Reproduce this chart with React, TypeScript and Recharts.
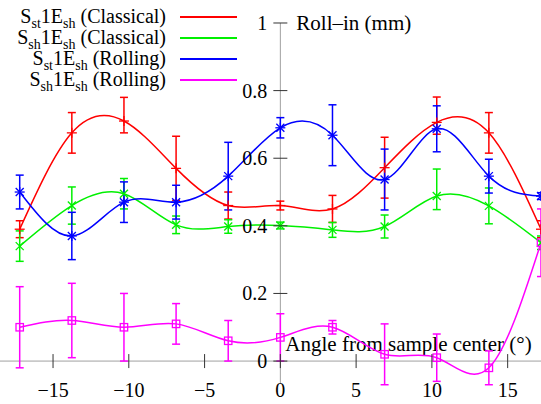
import React from "react";
import { ComposedChart, Line, XAxis, YAxis, ErrorBar, ReferenceLine } from "recharts";

// sample angles (deg)
const angles = [-17.2, -13.76, -10.32, -6.88, -3.44, 0, 3.44, 6.88, 10.32, 13.76, 17.2];

// roll-in (mm), error given as number or [low, high]
const stClassical = [0.39, 0.675, 0.71, 0.57, 0.46, 0.46, 0.45, 0.572, 0.706, 0.675, 0.39];
const stClassicalErr = [0.025, 0.06, [0.035, 0.07], 0.095, 0.04, 0.013, 0.04, 0.09, [0.035, 0.075], 0.06, 0.025];
const shClassical = [0.34, 0.46, 0.495, 0.403, 0.398, 0.401, 0.388, 0.398, 0.488, 0.459, 0.35];
const shClassicalErr = [0.045, 0.055, 0.045, 0.026, 0.02, 0.01, 0.022, 0.034, [0.04, 0.08], 0.053, 0.02];
const stRolling = [0.5, 0.37, 0.47, 0.47, 0.547, 0.69, 0.668, 0.537, 0.687, 0.547, 0.488];
const stRollingErr = [0.05, 0.07, 0.06, 0.05, 0.1, 0.03, 0.09, 0.09, 0.068, 0.05, 0.01];
const shRolling = [0.1, 0.12, 0.1, 0.11, 0.06, 0.07, 0.1, 0.02, 0.01, -0.02, 0.35];
const shRollingErr = [0.12, 0.11, 0.1, 0.06, 0.06, 0.07, 0.02, 0.09, 0.07, 0.05, 0.1];

const xTicks = [-15, -10, -5, 0, 5, 10, 15];
const yTicks = [0, 0.2, 0.4, 0.6, 0.8, 1];

const W = 541;
const H = 404;
const X_MIN = -18.5;
const X_MAX = 17.2;
const Y_MIN = -0.127;
const Y_MAX = 1.068;
const xZero = (W * (0 - X_MIN)) / (X_MAX - X_MIN);
const yZero = (H * Y_MAX) / (Y_MAX - Y_MIN);

const FONT = "'Liberation Serif', 'DejaVu Serif', serif";
const txt = { fontFamily: FONT, fontSize: 20 };
const title = { fontFamily: FONT, fontSize: 21 };

const RED = "#ff0000";
const GREEN = "#00f000";
const BLUE = "#0000ff";
const MAGENTA = "#ff00ff";

const data = angles.map((a, i) => ({
  angle: a,
  stC: stClassical[i],
  stCErr: stClassicalErr[i],
  shC: shClassical[i],
  shCErr: shClassicalErr[i],
  stR: stRolling[i],
  stRErr: stRollingErr[i],
  shR: shRolling[i],
  shRErr: shRollingErr[i],
}));

const legendItems = [
  { a: "st", b: " (Classical)", color: RED },
  { a: "sh", b: " (Classical)", color: GREEN },
  { a: "st", b: " (Rolling)", color: BLUE },
  { a: "sh", b: " (Rolling)", color: MAGENTA },
];

const fmtX = (v: number) => (v < 0 ? "\u2212" + Math.abs(v) : String(v));

const XTick = (props: any) => {
  const { x, payload } = props;
  return (
    <g>
      <line x1={x} x2={x} y1={yZero - 7} y2={yZero + 7} stroke="#333" strokeWidth={1} />
      <text x={x} y={yZero + 36} textAnchor="middle" style={txt} fill="#000">
        {fmtX(payload.value)}
      </text>
    </g>
  );
};

const YTick = (props: any) => {
  const { y, payload } = props;
  return (
    <g>
      <line x1={xZero - 7} x2={xZero + 7} y1={y} y2={y} stroke="#333" strokeWidth={1} />
      <text x={xZero - 13} y={y + 7} textAnchor="end" style={txt} fill="#000">
        {String(payload.value)}
      </text>
    </g>
  );
};

const Plus = (color: string) => (p: any) => {
  const { cx, cy, index } = p;
  if (cx == null || cy == null) return <g key={index} />;
  return (
    <g key={index} stroke={color} strokeWidth={1.3}>
      <line x1={cx - 5} x2={cx + 5} y1={cy} y2={cy} />
      <line x1={cx} x2={cx} y1={cy - 5} y2={cy + 5} />
    </g>
  );
};

const Cross = (color: string) => (p: any) => {
  const { cx, cy, index } = p;
  if (cx == null || cy == null) return <g key={index} />;
  return (
    <g key={index} stroke={color} strokeWidth={1.3}>
      <line x1={cx - 4} x2={cx + 4} y1={cy - 4} y2={cy + 4} />
      <line x1={cx - 4} x2={cx + 4} y1={cy + 4} y2={cy - 4} />
    </g>
  );
};

const Star = (color: string) => (p: any) => {
  const { cx, cy, index } = p;
  if (cx == null || cy == null) return <g key={index} />;
  return (
    <g key={index} stroke={color} strokeWidth={1.3}>
      <line x1={cx - 5} x2={cx + 5} y1={cy} y2={cy} />
      <line x1={cx} x2={cx} y1={cy - 5} y2={cy + 5} />
      <line x1={cx - 4} x2={cx + 4} y1={cy - 4} y2={cy + 4} />
      <line x1={cx - 4} x2={cx + 4} y1={cy + 4} y2={cy - 4} />
    </g>
  );
};

const Square = (color: string) => (p: any) => {
  const { cx, cy, index } = p;
  if (cx == null || cy == null) return <g key={index} />;
  return (
    <rect key={index} x={cx - 3.7} y={cy - 3.7} width={7.4} height={7.4} fill="none" stroke={color} strokeWidth={1.3} />
  );
};

const LegendBox = () => (
  <div style={{ position: "absolute", left: 0, top: 6, fontFamily: FONT, fontSize: 20, color: "#000" }}>
    {legendItems.map((it, i) => (
      <div key={i} style={{ display: "flex", alignItems: "center", height: 21, overflow: "visible" }}>
        <div style={{ width: 166, textAlign: "right", whiteSpace: "nowrap", lineHeight: "21px", height: 21 }}>
          S<span style={{ fontSize: 14, position: "relative", top: 5, lineHeight: 0 }}>{it.a}</span>1E
          <span style={{ fontSize: 14, position: "relative", top: 5, lineHeight: 0 }}>sh</span>
          {it.b}
        </div>
        <div style={{ marginLeft: 14, width: 57, height: 2, background: it.color }} />
      </div>
    ))}
  </div>
);

const AxisTitleX = (props: any) => {
  const { viewBox } = props;
  return (
    <text x={viewBox.x + xZero + 5} y={viewBox.y - 10} style={title} fill="#000">
      Angle from sample center (°)
    </text>
  );
};

const AxisTitleY = (props: any) => {
  const { viewBox } = props;
  return (
    <text x={viewBox.x + 16} y={viewBox.y + 7} style={title} fill="#000">
      Roll–in (mm)
    </text>
  );
};

export default function App() {
  return (
    <div style={{ position: "absolute", left: 0, top: 0, width: W, height: H, background: "#fff" }}>
      <ComposedChart width={W} height={H} data={data} margin={{ top: 0, right: 0, bottom: 0, left: 0 }}>
        <XAxis
          dataKey="angle"
          type="number"
          domain={[X_MIN, X_MAX]}
          ticks={xTicks}
          interval={0}
          mirror
          axisLine={false}
          tickLine={false}
          tick={<XTick />}
          allowDataOverflow
        />
        <YAxis
          type="number"
          domain={[Y_MIN, Y_MAX]}
          ticks={yTicks}
          interval={0}
          mirror
          axisLine={false}
          tickLine={false}
          tick={<YTick />}
          allowDataOverflow
        />
        <ReferenceLine y={0} stroke="#a0a0a0" strokeWidth={1} label={<AxisTitleX />} />
        <ReferenceLine
          segment={[
            { x: 0, y: -0.065 },
            { x: 0, y: 1 },
          ]}
          stroke="#a0a0a0"
          strokeWidth={1}
          label={<AxisTitleY />}
        />
        <Line dataKey="stC" type="natural" stroke={RED} strokeWidth={1.5} dot={Plus(RED)} activeDot={false} isAnimationActive={false}>
          <ErrorBar dataKey="stCErr" direction="y" width={4} stroke={RED} strokeWidth={1.5} />
        </Line>
        <Line dataKey="shC" type="natural" stroke={GREEN} strokeWidth={1.5} dot={Cross(GREEN)} activeDot={false} isAnimationActive={false}>
          <ErrorBar dataKey="shCErr" direction="y" width={4} stroke={GREEN} strokeWidth={1.5} />
        </Line>
        <Line dataKey="stR" type="natural" stroke={BLUE} strokeWidth={1.5} dot={Star(BLUE)} activeDot={false} isAnimationActive={false}>
          <ErrorBar dataKey="stRErr" direction="y" width={4} stroke={BLUE} strokeWidth={1.5} />
        </Line>
        <Line dataKey="shR" type="natural" stroke={MAGENTA} strokeWidth={1.5} dot={Square(MAGENTA)} activeDot={false} isAnimationActive={false}>
          <ErrorBar dataKey="shRErr" direction="y" width={4} stroke={MAGENTA} strokeWidth={1.5} />
        </Line>
      </ComposedChart>
      <LegendBox />
    </div>
  );
}
